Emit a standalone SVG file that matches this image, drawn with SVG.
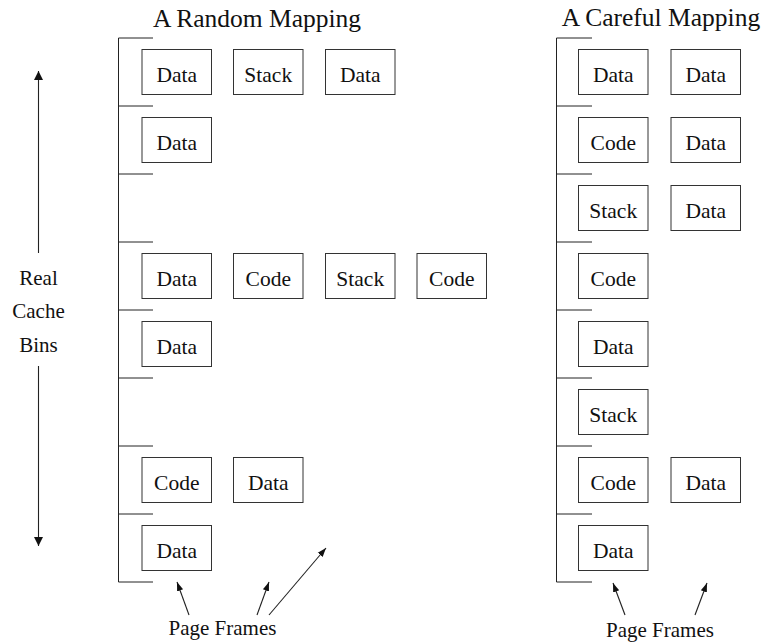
<svg xmlns="http://www.w3.org/2000/svg" width="763" height="642" viewBox="0 0 763 642">
<style>
text{font-family:"Liberation Serif","Times New Roman",serif;fill:#111}
.t{font-size:25.5px;text-anchor:middle}
.l{font-size:21px;text-anchor:middle}
.b rect{fill:#fff;stroke:#333;stroke-width:1}
.b text{font-size:21.5px;text-anchor:middle}
.br{fill:none;stroke:#222;stroke-width:1}
.c line{stroke:#222;stroke-width:1.1}
</style>
<defs>
<marker id="ah" markerUnits="userSpaceOnUse" markerWidth="10" markerHeight="10" viewBox="0 0 10 10" refX="9" refY="5" orient="auto">
<path d="M0,0.5 L9,5 L0,9.5 z" fill="#111"/>
</marker>
<marker id="ah2" markerUnits="userSpaceOnUse" markerWidth="10" markerHeight="8" viewBox="0 0 10 8" refX="9" refY="4" orient="auto">
<path d="M0,0.8 L9,4 L0,7.2 z" fill="#111"/>
</marker>
</defs>
<rect width="763" height="642" fill="#fff"/>
<text class="t" x="257" y="26.5">A Random Mapping</text>
<text class="t" x="661" y="25.5">A Careful Mapping</text>
<g id="bins-label">
<text class="l" x="38.5" y="285">Real</text>
<text class="l" x="38.5" y="318">Cache</text>
<text class="l" x="38.5" y="351.5">Bins</text>
</g>
<g id="left-bins">
<path class="br" d="M153,38 H118.5 V582 H153 M118.5,106 H153 M118.5,174 H153 M118.5,242 H153 M118.5,310 H153 M118.5,378 H153 M118.5,446 H153 M118.5,514 H153"/>
</g>
<g id="right-bins">
<path class="br" d="M592,38 H556.5 V582 H592 M556.5,106 H592 M556.5,174 H592 M556.5,242 H592 M556.5,310 H592 M556.5,378 H592 M556.5,446 H592 M556.5,514 H592"/>
</g>
<g class="b">
<g id="L1a"><rect x="142" y="49.5" width="69.5" height="45"/><text x="176.75" y="81.5">Data</text></g>
<g id="L1b"><rect x="233.5" y="49.5" width="69.5" height="45"/><text x="268.25" y="81.5">Stack</text></g>
<g id="L1c"><rect x="325.5" y="49.5" width="69.5" height="45"/><text x="360.25" y="81.5">Data</text></g>
<g id="L2a"><rect x="142" y="117.5" width="69.5" height="45"/><text x="176.75" y="149.5">Data</text></g>
<g id="L4a"><rect x="142" y="253.5" width="69.5" height="45"/><text x="176.75" y="285.5">Data</text></g>
<g id="L4b"><rect x="233.5" y="253.5" width="69.5" height="45"/><text x="268.25" y="285.5">Code</text></g>
<g id="L4c"><rect x="325.5" y="253.5" width="69.5" height="45"/><text x="360.25" y="285.5">Stack</text></g>
<g id="L4d"><rect x="417" y="253.5" width="69.5" height="45"/><text x="451.75" y="285.5">Code</text></g>
<g id="L5a"><rect x="142" y="321.5" width="69.5" height="45"/><text x="176.75" y="353.5">Data</text></g>
<g id="L7a"><rect x="142" y="457.5" width="69.5" height="45"/><text x="176.75" y="489.5">Code</text></g>
<g id="L7b"><rect x="233.5" y="457.5" width="69.5" height="45"/><text x="268.25" y="489.5">Data</text></g>
<g id="L8a"><rect x="142" y="525.5" width="69.5" height="45"/><text x="176.75" y="557.5">Data</text></g>
<g id="R1a"><rect x="578.5" y="49.5" width="69.5" height="45"/><text x="613.25" y="81.5">Data</text></g>
<g id="R1b"><rect x="671" y="49.5" width="69.5" height="45"/><text x="705.75" y="81.5">Data</text></g>
<g id="R2a"><rect x="578.5" y="117.5" width="69.5" height="45"/><text x="613.25" y="149.5">Code</text></g>
<g id="R2b"><rect x="671" y="117.5" width="69.5" height="45"/><text x="705.75" y="149.5">Data</text></g>
<g id="R3a"><rect x="578.5" y="185.5" width="69.5" height="45"/><text x="613.25" y="217.5">Stack</text></g>
<g id="R3b"><rect x="671" y="185.5" width="69.5" height="45"/><text x="705.75" y="217.5">Data</text></g>
<g id="R4a"><rect x="578.5" y="253.5" width="69.5" height="45"/><text x="613.25" y="285.5">Code</text></g>
<g id="R5a"><rect x="578.5" y="321.5" width="69.5" height="45"/><text x="613.25" y="353.5">Data</text></g>
<g id="R6a"><rect x="578.5" y="389.5" width="69.5" height="45"/><text x="613.25" y="421.5">Stack</text></g>
<g id="R7a"><rect x="578.5" y="457.5" width="69.5" height="45"/><text x="613.25" y="489.5">Code</text></g>
<g id="R7b"><rect x="671" y="457.5" width="69.5" height="45"/><text x="705.75" y="489.5">Data</text></g>
<g id="R8a"><rect x="578.5" y="525.5" width="69.5" height="45"/><text x="613.25" y="557.5">Data</text></g>
</g>
<text class="l" x="222.5" y="635">Page Frames</text>
<text class="l" x="660" y="637">Page Frames</text>
<g class="c" id="connectors">
<line x1="38.5" y1="253" x2="38.5" y2="71" marker-end="url(#ah)"/>
<line x1="38.5" y1="366" x2="38.5" y2="546" marker-end="url(#ah)"/>
<line x1="189" y1="615" x2="177" y2="582" marker-end="url(#ah2)"/>
<line x1="257" y1="615" x2="269" y2="582" marker-end="url(#ah2)"/>
<line x1="269" y1="615" x2="326" y2="548" marker-end="url(#ah2)"/>
<line x1="625" y1="615" x2="613" y2="583" marker-end="url(#ah2)"/>
<line x1="695" y1="615" x2="707" y2="583" marker-end="url(#ah2)"/>
</g>
</svg>
